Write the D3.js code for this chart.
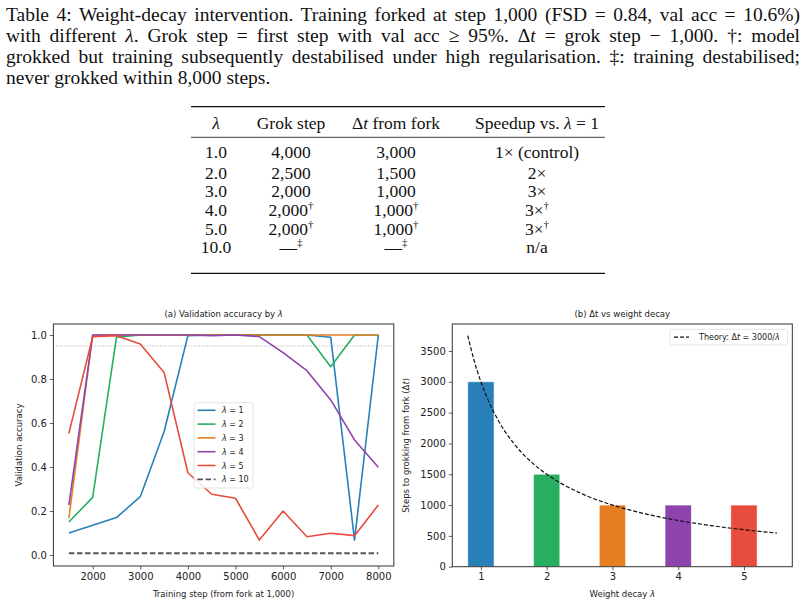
<!DOCTYPE html>
<html lang="en">
<head>
<meta charset="UTF-8">
<title>Weight-decay intervention</title>
<script src="https://d3js.org/d3.v7.min.js"></script>
<style>
  body { margin: 0; background: #fff; }
  #wrap { position: relative; width: 806px; height: 607px; overflow: hidden; }
  #caption {
    position: absolute; left: 6px; top: 3.5px; width: 794px;
    font-family: "Liberation Serif", "DejaVu Serif", serif;
    font-size: 19.5px; line-height: 21.2px; color: #111;
  }
  #caption .ln { text-align: justify; text-align-last: justify; white-space: nowrap; }
  #caption .ln.last { text-align-last: left; }
  #caption .nb { display: inline-block; }
  svg { position: absolute; left: 0; top: 0; }
  .tick text { font-family: "DejaVu Sans", sans-serif; font-size: 10px; fill: #222; }
  .tick line { stroke: #333; stroke-width: 0.8; }
</style>
</head>
<body>
<div id="wrap">
  <div id="caption">
    <div class="ln">Table 4: Weight-decay intervention. Training forked at step 1,000 (FSD = 0.84, val acc = 10.6%)</div>
    <div class="ln">with different <i>λ</i>. Grok step = first step with val acc ≥ 95%. Δ<i>t</i> = grok step − 1,000. <span class="nb">†:</span> model</div>
    <div class="ln">grokked but training subsequently destabilised under high regularisation. <span class="nb">‡:</span> training destabilised;</div>
    <div class="ln last">never grokked within 8,000 steps.</div>
  </div>
  <svg id="chart" width="806" height="607"></svg>
</div>
<script>
// ---- table data ----
const tableLambda  = ["1.0", "2.0", "3.0", "4.0", "5.0", "10.0"];
const tableGrok    = ["4,000", "2,500", "2,000", "2,000", "2,000", "—"];
const tableDelta   = ["3,000", "1,500", "1,000", "1,000", "1,000", "—"];
const tableSpeedup = ["1× (control)", "2×", "3×", "3×", "3×", "n/a"];
const tableMark    = ["", "", "", "†", "†", "‡"];
const speedupMark  = ["", "", "", "†", "†", ""];

// ---- (a) validation accuracy ----
const steps = [1500, 2000, 2500, 3000, 3500, 4000, 4500, 5000, 5500, 6000, 6500, 7000, 7500, 8000];
const acc1  = [0.10, 0.135, 0.17, 0.265, 0.56, 0.997, 1.0, 1.0, 1.0, 1.0, 1.0, 0.99, 0.068, 1.0];
const acc2  = [0.15, 0.262, 0.99, 1.0, 1.0, 1.0, 1.0, 1.0, 1.0, 1.0, 1.0, 0.856, 1.0, 1.0];
const acc3  = [0.167, 1.0, 1.0, 1.0, 1.0, 1.0, 1.0, 1.0, 1.0, 1.0, 1.0, 1.0, 1.0, 1.0];
const acc4  = [0.227, 1.0, 1.0, 1.0, 1.0, 1.0, 0.997, 1.0, 0.993, 0.92, 0.838, 0.705, 0.523, 0.399];
const acc5  = [0.553, 0.992, 0.997, 0.959, 0.83, 0.374, 0.276, 0.258, 0.068, 0.2, 0.083, 0.099, 0.088, 0.227];
const acc10 = [0.008, 0.008, 0.008, 0.008, 0.008, 0.008, 0.008, 0.008, 0.008, 0.008, 0.008, 0.008, 0.008, 0.008];
const seriesLabels = ["1", "2", "3", "4", "5", "10"];
const threshold = 0.95;

// ---- (b) delta t vs weight decay ----
const decay = [1, 2, 3, 4, 5];
const deltaT = [3000, 1500, 1000, 1000, 1000];
const theoryLam = [0.8, 0.9, 1.0, 1.1, 1.25, 1.5, 1.75, 2.0, 2.5, 3.0, 3.5, 4.0, 4.5, 5.0, 5.5];
const theoryDt  = [3750, 3333, 3000, 2727, 2400, 2000, 1714, 1500, 1200, 1000, 857, 750, 667, 600, 545];

const colors = ["#2980b9", "#27ae60", "#e67e22", "#8e44ad", "#e74c3c", "#555555"];
const sans = "'DejaVu Sans', sans-serif";
const serif = "'Liberation Serif', 'DejaVu Serif', serif";

const svg = d3.select("#chart");

// ================= table =================
const tbl = svg.append("g");
const colX = [216, 291, 396, 537];
const ruleX = [191, 605];
const rowY = [152, 172.5, 191, 209.5, 228.5, 247];

tbl.append("line").attr("x1", ruleX[0]).attr("x2", ruleX[1]).attr("y1", 106.7).attr("y2", 106.7)
  .attr("stroke", "#111").attr("stroke-width", 1.3);
tbl.append("line").attr("x1", ruleX[0]).attr("x2", ruleX[1]).attr("y1", 137.3).attr("y2", 137.3)
  .attr("stroke", "#111").attr("stroke-width", 0.8);
tbl.append("line").attr("x1", ruleX[0]).attr("x2", ruleX[1]).attr("y1", 273.3).attr("y2", 273.3)
  .attr("stroke", "#111").attr("stroke-width", 1.3);

const hdr = tbl.append("g").attr("font-family", serif).attr("font-size", 17.5).attr("fill", "#111")
  .attr("text-anchor", "middle");
hdr.append("text").attr("x", colX[0]).attr("y", 128.5).append("tspan").attr("font-style", "italic").text("λ");
hdr.append("text").attr("x", colX[1]).attr("y", 128.5).text("Grok step");
const h3 = hdr.append("text").attr("x", colX[2]).attr("y", 128.5);
h3.append("tspan").text("Δ");
h3.append("tspan").attr("font-style", "italic").text("t");
h3.append("tspan").text(" from fork");
const h4 = hdr.append("text").attr("x", colX[3]).attr("y", 128.5);
h4.append("tspan").text("Speedup vs. ");
h4.append("tspan").attr("font-style", "italic").text("λ");
h4.append("tspan").text(" = 1");

function cell(x, y, main, mark) {
  const t = tbl.append("text").attr("x", x).attr("y", y + 6)
    .attr("font-family", serif).attr("font-size", 17.5).attr("fill", "#111").attr("text-anchor", "middle");
  t.append("tspan").text(main);
  if (mark) t.append("tspan").attr("font-size", 11).attr("dy", -7).text(mark);
}
tableLambda.forEach((v, i) => {
  cell(colX[0], rowY[i], v, "");
  cell(colX[1], rowY[i], tableGrok[i], tableMark[i]);
  cell(colX[2], rowY[i], tableDelta[i], tableMark[i]);
  cell(colX[3], rowY[i], tableSpeedup[i], speedupMark[i]);
});

// ================= helpers =================
function spines(g, x0, x1, y0, y1) {
  g.append("rect").attr("x", x0).attr("y", y0).attr("width", x1 - x0).attr("height", y1 - y0)
    .attr("fill", "none").attr("stroke", "#333").attr("stroke-width", 1);
}
function styleAxis(sel) {
  sel.select(".domain").remove();
}
function lamLabel(t, suffix) {
  t.append("tspan").attr("font-style", "italic").text("λ");
  t.append("tspan").text(" = " + suffix);
}

// ================= (a) =================
const A = { l: 53.4, r: 393.8, t: 324, b: 566 };
const xA = d3.scaleLinear().domain([1175, 8325]).range([A.l, A.r]);
const yA = d3.scaleLinear().domain([-0.05, 1.05]).range([A.b, A.t]);
const gA = svg.append("g");

gA.append("line").attr("x1", A.l).attr("x2", A.r).attr("y1", yA(threshold)).attr("y2", yA(threshold))
  .attr("stroke", "#999").attr("stroke-width", 0.8).attr("stroke-dasharray", "1,1.6");

const accAll = [acc1, acc2, acc3, acc4, acc5, acc10];
const lineA = d3.line().x((d, i) => xA(steps[i])).y(d => yA(d));
accAll.forEach((vals, k) => {
  gA.append("path").datum(vals).attr("d", lineA)
    .attr("fill", "none").attr("stroke", colors[k])
    .attr("stroke-width", k === 5 ? 1.8 : 1.6)
    .attr("stroke-linejoin", "round")
    .attr("stroke-dasharray", k === 5 ? "5.5,2.6" : null);
});

gA.append("g").attr("transform", `translate(0,${A.b})`)
  .call(d3.axisBottom(xA).tickValues([2000, 3000, 4000, 5000, 6000, 7000, 8000]).tickFormat(d3.format("d")).tickSize(3.5).tickPadding(3))
  .call(styleAxis);
gA.append("g").attr("transform", `translate(${A.l},0)`)
  .call(d3.axisLeft(yA).tickValues([0, 0.2, 0.4, 0.6, 0.8, 1.0]).tickFormat(d3.format(".1f")).tickSize(3.5).tickPadding(3))
  .call(styleAxis);
spines(gA, A.l, A.r, A.t, A.b);

const tA = gA.append("text").attr("x", (A.l + A.r) / 2).attr("y", 316.5).attr("text-anchor", "middle")
  .attr("font-family", sans).attr("font-size", 8.5).attr("fill", "#222");
tA.append("tspan").text("(a) Validation accuracy by ");
tA.append("tspan").attr("font-style", "italic").text("λ");
gA.append("text").attr("x", (A.l + A.r) / 2).attr("y", 596.5).attr("text-anchor", "middle")
  .attr("font-family", sans).attr("font-size", 8.5).attr("fill", "#222").text("Training step (from fork at 1,000)");
gA.append("text").attr("transform", `translate(22,${(A.t + A.b) / 2}) rotate(-90)`).attr("text-anchor", "middle")
  .attr("font-family", sans).attr("font-size", 8.5).attr("fill", "#222").text("Validation accuracy");

// legend (a)
const legA = gA.append("g");
legA.append("rect").attr("x", 194).attr("y", 402.7).attr("width", 59).attr("height", 85.3).attr("rx", 2)
  .attr("fill", "#fff").attr("fill-opacity", 0.85).attr("stroke", "#ddd").attr("stroke-width", 0.8);
seriesLabels.forEach((lab, k) => {
  const y = 410.3 + k * 13.8;
  legA.append("line").attr("x1", 197.5).attr("x2", 215.5).attr("y1", y).attr("y2", y)
    .attr("stroke", colors[k]).attr("stroke-width", k === 5 ? 1.8 : 1.6)
    .attr("stroke-dasharray", k === 5 ? "5.5,2.6" : null);
  const t = legA.append("text").attr("x", 222).attr("y", y + 3).attr("font-family", sans)
    .attr("font-size", 8).attr("fill", "#222");
  lamLabel(t, lab);
});

// ================= (b) =================
const B = { l: 452.3, r: 792.3, t: 324, b: 566.7 };
const xB = d3.scaleLinear().domain([0.565, 5.735]).range([B.l, B.r]);
const yB = d3.scaleLinear().domain([0, 3937.5]).range([B.b, B.t]);
const gB = svg.append("g");
const barW = xB(0.4) - xB(0);

gB.selectAll("rect.bar").data(deltaT).enter().append("rect").attr("class", "bar")
  .attr("x", (d, i) => xB(decay[i]) - barW / 2)
  .attr("y", d => yB(d))
  .attr("width", barW)
  .attr("height", d => yB(0) - yB(d))
  .attr("fill", (d, i) => colors[i])
  .attr("stroke", "#fff").attr("stroke-opacity", 0.7).attr("stroke-width", 0.8);

const lineB = d3.line().x((d, i) => xB(theoryLam[i])).y(d => yB(d)).curve(d3.curveMonotoneX);
gB.append("path").datum(theoryDt).attr("d", lineB).attr("fill", "none")
  .attr("stroke", "#111").attr("stroke-width", 1.2).attr("stroke-dasharray", "4,2");

gB.append("g").attr("transform", `translate(0,${B.b})`)
  .call(d3.axisBottom(xB).tickValues(decay).tickFormat(d3.format("d")).tickSize(3.5).tickPadding(3))
  .call(styleAxis);
gB.append("g").attr("transform", `translate(${B.l},0)`)
  .call(d3.axisLeft(yB).tickValues([0, 500, 1000, 1500, 2000, 2500, 3000, 3500]).tickFormat(d3.format("d")).tickSize(3.5).tickPadding(3))
  .call(styleAxis);
spines(gB, B.l, B.r, B.t, B.b);

const tB = gB.append("text").attr("x", (B.l + B.r) / 2).attr("y", 316.5).attr("text-anchor", "middle")
  .attr("font-family", sans).attr("font-size", 8.5).attr("fill", "#222");
tB.text("(b) Δt vs weight decay");
const xlB = gB.append("text").attr("x", (B.l + B.r) / 2).attr("y", 597).attr("text-anchor", "middle")
  .attr("font-family", sans).attr("font-size", 8.5).attr("fill", "#222");
xlB.append("tspan").text("Weight decay ");
xlB.append("tspan").attr("font-style", "italic").text("λ");
const ylB = gB.append("text").attr("transform", `translate(409,${(B.t + B.b) / 2}) rotate(-90)`).attr("text-anchor", "middle")
  .attr("font-family", sans).attr("font-size", 8.5).attr("fill", "#222");
ylB.append("tspan").text("Steps to grokking from fork (Δ");
ylB.append("tspan").attr("font-style", "italic").text("t");
ylB.append("tspan").text(")");

// legend (b)
const legB = gB.append("g");
legB.append("rect").attr("x", 670).attr("y", 329.3).attr("width", 117.7).attr("height", 15.7).attr("rx", 2)
  .attr("fill", "#fff").attr("fill-opacity", 0.85).attr("stroke", "#ddd").attr("stroke-width", 0.8);
legB.append("line").attr("x1", 674).attr("x2", 689).attr("y1", 337.2).attr("y2", 337.2)
  .attr("stroke", "#111").attr("stroke-width", 1.2).attr("stroke-dasharray", "4,2");
const lt = legB.append("text").attr("x", 699).attr("y", 340.2).attr("font-family", sans)
  .attr("font-size", 8).attr("fill", "#222");
lt.append("tspan").text("Theory: Δ");
lt.append("tspan").attr("font-style", "italic").text("t");
lt.append("tspan").text(" = 3000/");
lt.append("tspan").attr("font-style", "italic").text("λ");
</script>
</body>
</html>
